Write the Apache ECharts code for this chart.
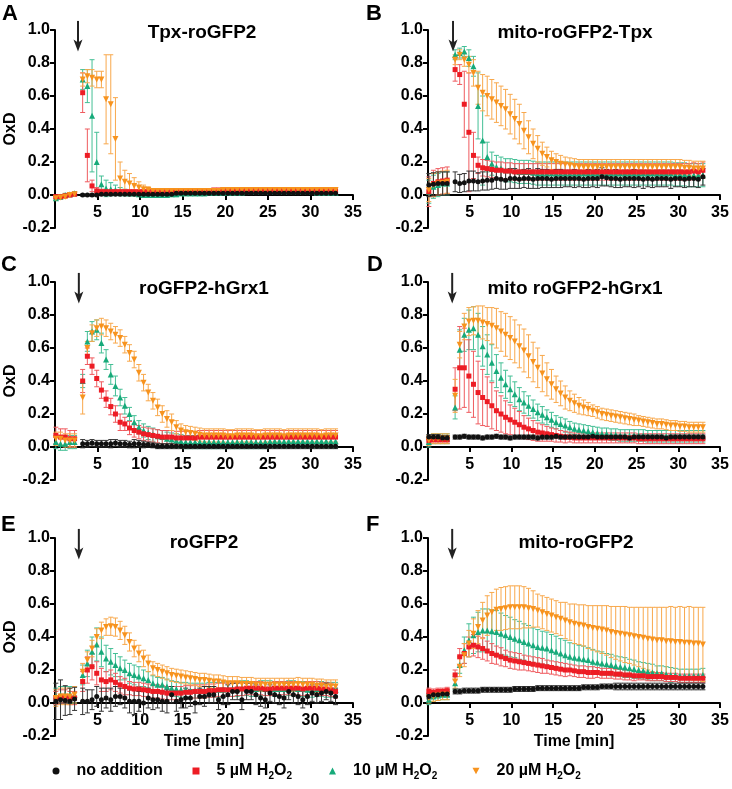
<!DOCTYPE html>
<html><head><meta charset="utf-8">
<script src="https://cdn.jsdelivr.net/npm/echarts/dist/echarts.min.js"></script>
<style>html,body{margin:0;padding:0;background:#fff}#c{width:732px;height:789px}</style>
</head><body><div id="c"></div>
<script>
// ---------- DATA ----------
const TIME = [0.1,0.65,1.2,1.75,2.3, 3.25,3.8,4.35,4.9,5.45, 6.0,6.55,7.1,7.65,8.2, 8.75,9.3,9.85,10.4,10.95, 11.5,12.05,12.6,13.15,13.7, 14.25,14.8,15.35,15.9,16.45, 17.0,17.55,18.1,18.65,19.2, 19.75,20.3,20.85,21.4,21.95, 22.5,23.05,23.6,24.15,24.7, 25.25,25.8,26.35,26.9,27.45, 28.0,28.55,29.1,29.65,30.2, 30.75,31.3,31.85,32.4,32.95];
const X_TICKS = [0,5,10,15,20,25,30,35];
const Y_TICKS = [-0.2,0,0.2,0.4,0.6,0.8,1.0];
const SERIES_NAMES = ['no addition','5 µM H2O2','10 µM H2O2','20 µM H2O2'];
const PANEL_TITLES = ['Tpx-roGFP2','mito-roGFP2-Tpx','roGFP2-hGrx1','mito roGFP2-hGrx1','roGFP2','mito-roGFP2'];
const PANEL_LETTERS = ['A','B','C','D','E','F'];
const ARROW_T = [2.7,3.0,2.8,2.9,2.8,2.9];
const ARROW_Y = [1.055,0.87];

// Panel A
const A_NB = [null,null,null,null,null,
0,0,0,0,0.005, 0.005,0.005,0.005,0.005,0.005, 0.005,0.005,0.005,0.005,0.005, 0.005,0.005,0.005,0.005,0.005,
0.01,0.01,0.01,0.01,0.01, 0.01,0.01,0.01,0.01,0.01, 0.01,0.01,0.01,0.01,0.01, 0.01,0.01,0.01,0.01,0.01,
0.01,0.01,0.01,0.01,0.01, 0.01,0.01,0.01,0.01,0.01, 0.01,0.01,0.01,0.01,0.01];
const A_NB_E = [0,0,0,0,0,
0.006,0.006,0.006,0.006,0.006, 0.006,0.006,0.006,0.006,0.006, 0.006,0.006,0.006,0.006,0.006, 0.006,0.006,0.006,0.006,0.006,
0.006,0.006,0.006,0.006,0.006, 0.006,0.006,0.006,0.006,0.006, 0.006,0.006,0.006,0.006,0.006, 0.006,0.006,0.006,0.006,0.006,
0.006,0.006,0.006,0.006,0.006, 0.006,0.006,0.006,0.006,0.006, 0.006,0.006,0.006,0.006,0.006];
const A_RD = [-0.01,-0.01,-0.005,0,0.005,
0.62,0.24,0.055,0.025,0.02, 0.02,0.02,0.02,0.02,0.02, 0.02,0.02,0.02,0.02,0.02, 0.02,0.02,0.02,0.02,0.02,
0.02,0.02,0.02,0.025,0.025, 0.025,0.025,0.025,0.03,0.03, 0.03,0.03,0.03,0.03,0.03, 0.03,0.03,0.03,0.03,0.03,
0.03,0.03,0.03,0.03,0.03, 0.03,0.03,0.03,0.025,0.025, 0.025,0.025,0.025,0.025,0.025];
const A_RD_E = [0.01,0.01,0.01,0.01,0.01,
0.12,0.16,0.035,0.02,0.015, 0.01,0.01,0.01,0.01,0.01, 0.01,0.01,0.01,0.01,0.01, 0.01,0.01,0.01,0.01,0.01,
0.01,0.01,0.01,0.01,0.01, 0.01,0.01,0.01,0.01,0.01, 0.01,0.01,0.01,0.01,0.01, 0.01,0.01,0.01,0.01,0.01,
0.01,0.01,0.01,0.01,0.01, 0.01,0.01,0.01,0.01,0.01, 0.01,0.01,0.01,0.01,0.01];
const A_GR = [-0.02,-0.01,0,0.005,0.01,
0.70,0.66,0.48,0.20,0.065, 0.04,0.035,0.03,0.02,0.015, 0.01,0.01,0.005,0,0, 0,0,0,0,0.005,
0.005,0.01,0.01,0.01,0.01, 0.01,0.01,0.015,0.015,0.015, 0.015,0.015,0.015,0.015,0.015, 0.02,0.02,0.02,0.02,0.02,
0.02,0.02,0.02,0.02,0.02, 0.02,0.02,0.02,0.02,0.02, 0.015,0.015,0.015,0.015,0.015];
const A_GR_E = [0.01,0.01,0.01,0.01,0.01,
0.06,0.10,0.34,0.18,0.05, 0.05,0.04,0.03,0.025,0.02, 0.015,0.015,0.015,0.015,0.015, 0.015,0.015,0.015,0.015,0.015,
0.015,0.015,0.015,0.015,0.015, 0.015,0.015,0.015,0.015,0.015, 0.015,0.015,0.015,0.015,0.015, 0.015,0.015,0.015,0.015,0.015,
0.015,0.015,0.015,0.015,0.015, 0.015,0.015,0.015,0.015,0.015, 0.015,0.015,0.015,0.015,0.015];
const A_OR = [-0.02,-0.015,-0.01,0,0.005,
0.70,0.72,0.71,0.70,0.70, 0.58,0.55,0.34,0.10,0.08, 0.07,0.055,0.045,0.035,0.03, 0.025,0.025,0.025,0.025,0.025,
0.025,0.025,0.025,0.025,0.025, 0.025,0.025,0.025,0.025,0.025, 0.03,0.03,0.03,0.03,0.03, 0.03,0.03,0.03,0.03,0.03,
0.03,0.03,0.03,0.03,0.03, 0.03,0.03,0.03,0.03,0.03, 0.03,0.03,0.03,0.03,0.03];
const A_OR_E = [0.01,0.01,0.01,0.01,0.01,
0.04,0.04,0.05,0.05,0.05, 0.27,0.30,0.25,0.10,0.07, 0.06,0.05,0.035,0.025,0.02, 0.012,0.012,0.012,0.012,0.012,
0.012,0.012,0.012,0.012,0.012, 0.012,0.012,0.012,0.012,0.012, 0.012,0.012,0.012,0.012,0.012, 0.012,0.012,0.012,0.012,0.012,
0.012,0.012,0.012,0.012,0.012, 0.012,0.012,0.012,0.012,0.012, 0.012,0.012,0.012,0.012,0.012];

// Panel B
const B_NB = [0.06,0.065,0.07,0.07,0.07,
0.08,0.07,0.075,0.085,0.085, 0.08,0.085,0.09,0.09,0.1, 0.095,0.09,0.1,0.1,0.095, 0.1,0.1,0.095,0.1,0.1,
0.1,0.095,0.1,0.1,0.1, 0.1,0.1,0.1,0.095,0.1, 0.1,0.1,0.11,0.105,0.1, 0.1,0.095,0.1,0.1,0.1,
0.1,0.095,0.1,0.095,0.1, 0.1,0.1,0.095,0.1,0.1, 0.095,0.1,0.1,0.095,0.11];
const B_NB_E = [0.07,0.07,0.07,0.07,0.07,
0.06,0.055,0.055,0.06,0.06, 0.055,0.055,0.06,0.055,0.06, 0.06,0.055,0.06,0.06,0.055, 0.055,0.06,0.055,0.06,0.055,
0.055,0.05,0.055,0.055,0.05, 0.05,0.055,0.05,0.05,0.055, 0.05,0.055,0.055,0.05,0.05, 0.055,0.05,0.05,0.05,0.055,
0.05,0.055,0.05,0.05,0.05, 0.05,0.05,0.055,0.05,0.05, 0.05,0.05,0.05,0.05,0.05];
const B_RD = [0.02,0.07,0.08,0.085,0.09,
0.76,0.73,0.55,0.38,0.24, 0.18,0.165,0.16,0.155,0.15, 0.15,0.145,0.145,0.14,0.14, 0.14,0.14,0.14,0.14,0.14,
0.14,0.14,0.14,0.14,0.14, 0.14,0.14,0.14,0.14,0.14, 0.14,0.14,0.14,0.14,0.14, 0.14,0.14,0.14,0.14,0.14,
0.14,0.14,0.14,0.14,0.14, 0.14,0.14,0.14,0.14,0.14, 0.14,0.14,0.145,0.14,0.15];
const B_RD_E = [0.09,0.08,0.08,0.08,0.08,
0.07,0.06,0.20,0.36,0.14, 0.05,0.05,0.05,0.05,0.05, 0.05,0.05,0.05,0.05,0.05, 0.05,0.05,0.05,0.05,0.05,
0.05,0.05,0.05,0.05,0.05, 0.05,0.05,0.05,0.05,0.05, 0.05,0.05,0.05,0.05,0.05, 0.05,0.05,0.05,0.05,0.05,
0.05,0.05,0.05,0.05,0.05, 0.05,0.05,0.05,0.05,0.05, 0.05,0.05,0.05,0.05,0.05];
const B_GR = [0.02,0.05,0.06,0.07,0.07,
0.85,0.86,0.87,0.83,0.78, 0.54,0.33,0.23,0.19,0.17, 0.16,0.15,0.15,0.145,0.14, 0.14,0.14,0.135,0.13,0.13,
0.13,0.13,0.13,0.13,0.13, 0.13,0.13,0.13,0.13,0.13, 0.13,0.13,0.13,0.13,0.13, 0.13,0.13,0.13,0.13,0.13,
0.13,0.13,0.13,0.13,0.13, 0.13,0.13,0.13,0.125,0.125, 0.125,0.12,0.12,0.12,0.12];
const B_GR_E = [0.07,0.07,0.07,0.07,0.07,
0.03,0.03,0.03,0.05,0.06, 0.20,0.27,0.09,0.07,0.07, 0.07,0.07,0.07,0.07,0.07, 0.07,0.07,0.07,0.07,0.07,
0.07,0.07,0.07,0.07,0.07, 0.07,0.07,0.07,0.07,0.07, 0.07,0.07,0.07,0.07,0.07, 0.07,0.07,0.07,0.07,0.07,
0.07,0.07,0.07,0.07,0.07, 0.07,0.07,0.07,0.07,0.07, 0.07,0.07,0.07,0.07,0.07];
const B_OR = [0.03,0.06,0.07,0.075,0.08,
0.82,0.85,0.82,0.79,0.74, 0.65,0.62,0.60,0.58,0.56, 0.54,0.52,0.49,0.46,0.43, 0.39,0.35,0.31,0.28,0.25,
0.23,0.21,0.20,0.19,0.185, 0.18,0.175,0.17,0.17,0.17, 0.17,0.17,0.17,0.17,0.17, 0.17,0.17,0.17,0.17,0.17,
0.17,0.17,0.17,0.17,0.17, 0.17,0.17,0.17,0.17,0.17, 0.165,0.165,0.16,0.16,0.16];
const B_OR_E = [0.07,0.07,0.07,0.07,0.07,
0.03,0.03,0.04,0.05,0.08, 0.10,0.11,0.12,0.12,0.12, 0.12,0.12,0.12,0.12,0.12, 0.11,0.10,0.09,0.08,0.07,
0.06,0.055,0.05,0.05,0.045, 0.045,0.045,0.045,0.045,0.045, 0.045,0.045,0.045,0.045,0.045, 0.045,0.045,0.045,0.045,0.045,
0.045,0.045,0.045,0.045,0.045, 0.045,0.045,0.045,0.045,0.045, 0.045,0.045,0.045,0.045,0.045];

// Panel C
const C_NB = [null,null,null,null,null,
0.02,0.02,0.025,0.02,0.02, 0.02,0.02,0.025,0.02,0.02, 0.015,0.02,0.02,0.015,0.015, 0.01,0.005,0.005,0.005,0.005,
0.005,0.005,0.005,0.005,0.005, 0.005,0.005,0.005,0.005,0.005, 0.005,0.005,0.005,0.005,0.005, 0.005,0.005,0.005,0.005,0.005,
0.005,0.005,0.005,0.005,0.005, 0.005,0.005,0.005,0.005,0.005, 0.005,0.005,0.005,0.005,0.005];
const C_NB_E = [0,0,0,0,0,
0.025,0.02,0.02,0.02,0.02, 0.02,0.025,0.02,0.02,0.02, 0.02,0.025,0.02,0.02,0.015, 0.015,0.015,0.015,0.015,0.015,
0.015,0.015,0.015,0.015,0.015, 0.015,0.015,0.015,0.015,0.015, 0.015,0.015,0.015,0.015,0.015, 0.015,0.015,0.015,0.015,0.015,
0.015,0.015,0.015,0.015,0.015, 0.015,0.015,0.015,0.015,0.015, 0.015,0.015,0.015,0.015,0.015];
const C_RD = [0.07,0.06,0.06,0.05,0.05,
0.40,0.55,0.49,0.415,0.345, 0.29,0.245,0.20,0.15,0.14, 0.115,0.10,0.09,0.08,0.075, 0.07,0.065,0.06,0.06,0.06,
0.055,0.055,0.055,0.055,0.055, 0.06,0.06,0.06,0.06,0.06, 0.06,0.06,0.06,0.06,0.06, 0.06,0.06,0.06,0.06,0.06,
0.06,0.06,0.06,0.06,0.06, 0.06,0.06,0.06,0.06,0.06, 0.06,0.06,0.06,0.06,0.06];
const C_RD_E = [0.05,0.05,0.05,0.05,0.05,
0.07,0.05,0.05,0.05,0.05, 0.05,0.05,0.05,0.05,0.04, 0.04,0.04,0.04,0.04,0.04, 0.04,0.04,0.04,0.04,0.04,
0.04,0.04,0.04,0.04,0.04, 0.04,0.04,0.04,0.04,0.04, 0.04,0.04,0.04,0.04,0.04, 0.04,0.04,0.04,0.04,0.04,
0.04,0.04,0.04,0.04,0.04, 0.04,0.04,0.04,0.04,0.04, 0.04,0.04,0.04,0.04,0.04];
const C_GR = [0.03,0.02,0.02,0.03,0.03,
0.40,0.64,0.70,0.71,0.63, 0.53,0.44,0.37,0.30,0.25, 0.20,0.15,0.12,0.10,0.085, 0.075,0.065,0.06,0.05,0.045,
0.04,0.035,0.03,0.03,0.03, 0.03,0.03,0.03,0.03,0.03, 0.03,0.03,0.03,0.03,0.03, 0.03,0.03,0.03,0.03,0.03,
0.035,0.035,0.035,0.035,0.035, 0.035,0.035,0.035,0.035,0.035, 0.035,0.035,0.035,0.035,0.035];
const C_GR_E = [0.04,0.04,0.04,0.04,0.04,
0.04,0.06,0.06,0.06,0.06, 0.06,0.06,0.06,0.05,0.05, 0.04,0.04,0.04,0.04,0.04, 0.04,0.04,0.04,0.04,0.04,
0.04,0.04,0.04,0.04,0.04, 0.04,0.04,0.04,0.04,0.04, 0.04,0.04,0.04,0.04,0.04, 0.04,0.04,0.04,0.04,0.04,
0.04,0.04,0.04,0.04,0.04, 0.04,0.04,0.04,0.04,0.04, 0.04,0.04,0.04,0.04,0.04];
const C_OR = [0.05,0.05,0.04,0.04,0.04,
0.30,0.60,0.69,0.72,0.73, 0.72,0.70,0.68,0.66,0.62, 0.57,0.53,0.45,0.39,0.33, 0.28,0.24,0.20,0.17,0.15,
0.12,0.10,0.09,0.085,0.08, 0.075,0.07,0.07,0.07,0.07, 0.07,0.065,0.065,0.07,0.07, 0.07,0.07,0.065,0.065,0.07,
0.07,0.07,0.07,0.065,0.07, 0.07,0.07,0.07,0.07,0.07, 0.07,0.065,0.07,0.07,0.07];
const C_OR_E = [0.04,0.04,0.04,0.04,0.04,
0.10,0.04,0.05,0.05,0.05, 0.05,0.05,0.05,0.05,0.05, 0.05,0.05,0.05,0.05,0.05, 0.05,0.05,0.05,0.05,0.05,
0.04,0.04,0.04,0.04,0.04, 0.04,0.04,0.04,0.04,0.04, 0.04,0.04,0.04,0.04,0.04, 0.04,0.04,0.04,0.04,0.04,
0.04,0.04,0.04,0.04,0.04, 0.04,0.04,0.04,0.04,0.04, 0.04,0.04,0.04,0.04,0.04];

// Panel D
const D_NB = [0.06,0.06,0.06,0.055,0.055,
0.06,0.06,0.065,0.06,0.06, 0.06,0.055,0.06,0.06,0.065, 0.06,0.06,0.055,0.06,0.06, 0.06,0.06,0.06,0.055,0.06,
0.06,0.06,0.065,0.06,0.06, 0.06,0.06,0.06,0.06,0.06, 0.065,0.06,0.06,0.06,0.06, 0.06,0.06,0.06,0.055,0.06,
0.06,0.06,0.06,0.06,0.06, 0.06,0.055,0.06,0.06,0.06, 0.06,0.06,0.06,0.06,0.06];
const D_NB_E = [0.015,0.015,0.015,0.015,0.015,
0.012,0.012,0.012,0.012,0.012, 0.012,0.012,0.012,0.012,0.012, 0.012,0.012,0.012,0.012,0.012, 0.012,0.012,0.012,0.012,0.012,
0.012,0.012,0.012,0.012,0.012, 0.012,0.012,0.012,0.012,0.012, 0.012,0.012,0.012,0.012,0.012, 0.012,0.012,0.012,0.012,0.012,
0.012,0.012,0.012,0.012,0.012, 0.012,0.012,0.012,0.012,0.012, 0.012,0.012,0.012,0.012,0.012];
const D_RD = [0.04,0.045,0.045,0.045,0.045,
0.35,0.48,0.48,0.43,0.38, 0.33,0.30,0.275,0.25,0.22, 0.20,0.18,0.165,0.15,0.135, 0.12,0.11,0.10,0.09,0.085,
0.08,0.075,0.07,0.065,0.06, 0.06,0.055,0.055,0.055,0.055, 0.055,0.055,0.055,0.055,0.055, 0.055,0.055,0.055,0.055,0.055,
0.05,0.05,0.05,0.05,0.05, 0.05,0.05,0.05,0.05,0.05, 0.05,0.05,0.05,0.05,0.05];
const D_RD_E = [0.02,0.02,0.02,0.02,0.02,
0.13,0.25,0.24,0.22,0.20, 0.19,0.17,0.15,0.14,0.12, 0.11,0.10,0.09,0.085,0.08, 0.07,0.065,0.06,0.055,0.05,
0.045,0.04,0.04,0.035,0.035, 0.03,0.03,0.03,0.03,0.03, 0.03,0.03,0.03,0.03,0.03, 0.03,0.03,0.03,0.03,0.03,
0.03,0.03,0.03,0.03,0.03, 0.03,0.03,0.03,0.03,0.03, 0.03,0.03,0.03,0.03,0.03];
const D_GR = [0.03,0.05,0.05,0.05,0.05,
0.24,0.59,0.68,0.71,0.72, 0.68,0.61,0.56,0.51,0.46, 0.42,0.38,0.35,0.32,0.29, 0.27,0.25,0.23,0.21,0.195,
0.18,0.165,0.15,0.14,0.13, 0.12,0.11,0.105,0.10,0.095, 0.09,0.085,0.08,0.08,0.075, 0.075,0.07,0.07,0.07,0.07,
0.07,0.07,0.065,0.065,0.065, 0.065,0.065,0.065,0.065,0.065, 0.065,0.065,0.065,0.065,0.065];
const D_GR_E = [0.03,0.03,0.03,0.03,0.03,
0.07,0.12,0.10,0.12,0.13, 0.13,0.12,0.12,0.11,0.10, 0.09,0.085,0.08,0.075,0.07, 0.065,0.06,0.055,0.05,0.05,
0.045,0.045,0.04,0.04,0.04, 0.035,0.035,0.035,0.035,0.035, 0.035,0.035,0.035,0.035,0.035, 0.035,0.035,0.035,0.035,0.035,
0.035,0.035,0.035,0.035,0.035, 0.035,0.035,0.035,0.035,0.035, 0.035,0.035,0.035,0.035,0.035];
const D_OR = [0.04,0.05,0.05,0.05,0.05,
0.31,0.62,0.73,0.76,0.765, 0.765,0.755,0.745,0.735,0.72, 0.70,0.68,0.66,0.64,0.61, 0.585,0.55,0.515,0.48,0.445,
0.41,0.38,0.35,0.325,0.30, 0.28,0.265,0.25,0.24,0.23, 0.22,0.21,0.20,0.195,0.19, 0.185,0.18,0.175,0.17,0.165,
0.16,0.155,0.15,0.145,0.14, 0.14,0.135,0.13,0.13,0.125, 0.125,0.12,0.12,0.12,0.12];
const D_OR_E = [0.03,0.03,0.03,0.03,0.03,
0.10,0.08,0.08,0.085,0.085, 0.09,0.10,0.10,0.11,0.12, 0.12,0.13,0.13,0.13,0.13, 0.13,0.13,0.12,0.12,0.11,
0.10,0.09,0.08,0.075,0.07, 0.06,0.055,0.05,0.045,0.04, 0.035,0.035,0.035,0.035,0.035, 0.035,0.035,0.035,0.035,0.035,
0.03,0.03,0.03,0.03,0.03, 0.03,0.03,0.03,0.03,0.03, 0.03,0.03,0.03,0.03,0.03];

// Panel E
const E_NB = [0.01,0.02,0.015,0.01,0.025,
0.01,0.01,0.02,0.04,0.02, 0.03,0.02,0.04,0.04,0.03, 0.01,0.01,0.01,0.0,0.03, 0.02,0.02,0.01,0.01,0.05,
0.01,0.02,0.03,0.03,0.0, 0.04,0.04,0.05,0.05,0.02, 0.04,0.05,0.07,0.07,0.02, 0.07,0.07,0.05,0.03,0.02,
0.06,0.05,0.04,0.03,0.07, 0.05,0.04,0.02,0.04,0.06, 0.05,0.06,0.07,0.06,0.04];
const E_NB_E = [0.11,0.12,0.09,0.08,0.07,
0.08,0.07,0.06,0.06,0.07, 0.06,0.07,0.06,0.05,0.06, 0.07,0.08,0.06,0.07,0.06, 0.06,0.05,0.06,0.07,0.05,
0.06,0.05,0.06,0.05,0.06, 0.05,0.06,0.05,0.05,0.06, 0.05,0.06,0.05,0.05,0.06, 0.05,0.05,0.06,0.05,0.05,
0.05,0.05,0.05,0.06,0.05, 0.05,0.05,0.05,0.05,0.05, 0.05,0.05,0.05,0.05,0.05];
const E_RD = [0.03,0.04,0.04,0.03,0.03,
0.13,0.20,0.22,0.18,0.14, 0.13,0.14,0.125,0.11,0.10, 0.09,0.085,0.085,0.08,0.075, 0.07,0.07,0.065,0.06,0.06,
0.06,0.06,0.065,0.065,0.07, 0.07,0.07,0.075,0.075,0.08, 0.08,0.08,0.08,0.085,0.085, 0.09,0.09,0.09,0.09,0.085,
0.085,0.09,0.09,0.09,0.09, 0.09,0.09,0.085,0.09,0.09, 0.09,0.085,0.085,0.08,0.07];
const E_RD_E = [0.04,0.04,0.04,0.04,0.04,
0.06,0.08,0.08,0.07,0.07, 0.06,0.06,0.055,0.05,0.05, 0.04,0.04,0.04,0.04,0.04, 0.04,0.04,0.04,0.04,0.04,
0.04,0.04,0.04,0.04,0.04, 0.04,0.04,0.04,0.04,0.04, 0.04,0.04,0.04,0.04,0.04, 0.04,0.04,0.04,0.04,0.04,
0.04,0.04,0.04,0.04,0.04, 0.04,0.04,0.04,0.04,0.04, 0.04,0.04,0.04,0.04,0.04];
const E_GR = [0.04,0.05,0.05,0.05,0.05,
0.17,0.24,0.31,0.355,0.31, 0.27,0.25,0.23,0.21,0.20, 0.18,0.17,0.16,0.15,0.14, 0.12,0.11,0.11,0.10,0.09,
0.085,0.08,0.08,0.075,0.075, 0.075,0.075,0.08,0.08,0.08, 0.08,0.085,0.085,0.085,0.09, 0.09,0.085,0.085,0.09,0.09,
0.09,0.085,0.085,0.085,0.09, 0.09,0.085,0.085,0.08,0.08, 0.085,0.085,0.08,0.08,0.08];
const E_GR_E = [0.05,0.05,0.05,0.05,0.05,
0.06,0.08,0.09,0.10,0.09, 0.08,0.08,0.07,0.07,0.06, 0.06,0.06,0.06,0.05,0.05, 0.045,0.045,0.045,0.045,0.045,
0.045,0.045,0.045,0.045,0.045, 0.045,0.045,0.045,0.045,0.045, 0.045,0.045,0.045,0.045,0.045, 0.045,0.045,0.045,0.045,0.045,
0.045,0.045,0.045,0.045,0.045, 0.045,0.045,0.045,0.045,0.045, 0.045,0.045,0.045,0.045,0.045];
const E_OR = [0.03,0.04,0.04,0.04,0.05,
0.19,0.26,0.33,0.40,0.44, 0.46,0.465,0.46,0.44,0.41, 0.37,0.33,0.30,0.27,0.24, 0.21,0.20,0.19,0.18,0.17,
0.165,0.16,0.155,0.15,0.145, 0.14,0.14,0.135,0.13,0.13, 0.125,0.12,0.12,0.12,0.115, 0.115,0.115,0.11,0.11,0.11,
0.11,0.11,0.11,0.11,0.11, 0.11,0.115,0.11,0.11,0.11, 0.105,0.105,0.10,0.10,0.10];
const E_OR_E = [0.05,0.05,0.05,0.05,0.05,
0.05,0.05,0.05,0.05,0.05, 0.05,0.055,0.055,0.055,0.055, 0.055,0.05,0.05,0.05,0.05, 0.04,0.04,0.04,0.04,0.04,
0.04,0.04,0.04,0.04,0.04, 0.04,0.04,0.04,0.04,0.04, 0.04,0.04,0.04,0.04,0.04, 0.04,0.04,0.04,0.04,0.04,
0.04,0.04,0.04,0.04,0.04, 0.04,0.04,0.04,0.04,0.04, 0.04,0.04,0.04,0.04,0.04];

// Panel F
const F_NB = [0.04,0.05,0.05,0.055,0.055,
0.07,0.07,0.075,0.075,0.075, 0.075,0.08,0.08,0.08,0.08, 0.08,0.08,0.08,0.085,0.085, 0.085,0.085,0.085,0.09,0.09,
0.09,0.09,0.09,0.09,0.09, 0.09,0.09,0.09,0.095,0.095, 0.095,0.095,0.1,0.1,0.1, 0.1,0.1,0.1,0.1,0.1,
0.1,0.1,0.1,0.1,0.1, 0.1,0.1,0.1,0.1,0.1, 0.1,0.1,0.1,0.1,0.1];
const F_NB_E = [0.015,0.015,0.015,0.015,0.015,
0.015,0.015,0.015,0.015,0.015, 0.015,0.015,0.015,0.015,0.015, 0.015,0.015,0.015,0.015,0.015, 0.015,0.015,0.015,0.015,0.015,
0.015,0.015,0.015,0.015,0.015, 0.015,0.015,0.015,0.015,0.015, 0.015,0.015,0.015,0.015,0.015, 0.02,0.02,0.02,0.02,0.02,
0.02,0.02,0.02,0.02,0.02, 0.02,0.02,0.02,0.02,0.02, 0.02,0.02,0.02,0.02,0.02];
const F_RD = [0.07,0.065,0.07,0.07,0.075,
0.17,0.28,0.30,0.34,0.35, 0.34,0.33,0.315,0.30,0.29, 0.28,0.27,0.26,0.255,0.25, 0.245,0.24,0.235,0.23,0.225,
0.22,0.215,0.21,0.205,0.20, 0.20,0.195,0.19,0.19,0.185, 0.185,0.185,0.18,0.18,0.18, 0.175,0.175,0.17,0.17,0.165,
0.165,0.165,0.16,0.16,0.16, 0.16,0.155,0.155,0.155,0.15, 0.15,0.15,0.15,0.15,0.15];
const F_RD_E = [0.02,0.02,0.02,0.02,0.02,
0.03,0.05,0.06,0.06,0.065, 0.065,0.065,0.06,0.06,0.055, 0.055,0.05,0.05,0.05,0.05, 0.045,0.045,0.045,0.045,0.045,
0.04,0.04,0.04,0.04,0.04, 0.035,0.035,0.035,0.035,0.035, 0.035,0.03,0.03,0.03,0.03, 0.03,0.03,0.03,0.03,0.03,
0.025,0.025,0.025,0.025,0.025, 0.025,0.025,0.025,0.025,0.025, 0.025,0.025,0.025,0.025,0.025];
const F_GR = [0.02,0.04,0.045,0.05,0.05,
0.12,0.23,0.32,0.38,0.41, 0.43,0.44,0.44,0.435,0.43, 0.42,0.41,0.40,0.39,0.38, 0.37,0.36,0.35,0.34,0.335,
0.33,0.32,0.31,0.30,0.29, 0.28,0.275,0.27,0.265,0.26, 0.25,0.245,0.24,0.235,0.23, 0.225,0.22,0.215,0.21,0.205,
0.20,0.195,0.19,0.185,0.18, 0.18,0.175,0.17,0.17,0.165, 0.165,0.165,0.165,0.165,0.17];
const F_GR_E = [0.03,0.03,0.03,0.03,0.03,
0.04,0.05,0.08,0.10,0.11, 0.12,0.13,0.13,0.13,0.13, 0.125,0.12,0.12,0.115,0.115, 0.11,0.11,0.105,0.105,0.10,
0.10,0.095,0.095,0.09,0.09, 0.085,0.085,0.08,0.08,0.075, 0.075,0.07,0.07,0.065,0.065, 0.06,0.06,0.06,0.055,0.055,
0.05,0.05,0.05,0.05,0.045, 0.045,0.045,0.045,0.04,0.04, 0.04,0.04,0.04,0.04,0.04];
const F_OR = [0.03,0.04,0.045,0.05,0.05,
0.13,0.22,0.29,0.36,0.42, 0.46,0.50,0.53,0.55,0.565, 0.57,0.575,0.58,0.58,0.58, 0.58,0.575,0.57,0.56,0.55,
0.54,0.53,0.52,0.51,0.50, 0.49,0.48,0.475,0.47,0.46, 0.455,0.45,0.445,0.44,0.43, 0.425,0.42,0.415,0.41,0.405,
0.40,0.395,0.39,0.385,0.38, 0.38,0.375,0.375,0.37,0.37, 0.365,0.365,0.36,0.36,0.355];
const F_OR_E = [0.03,0.03,0.03,0.03,0.03,
0.04,0.06,0.07,0.08,0.09, 0.10,0.11,0.12,0.12,0.125, 0.13,0.13,0.13,0.13,0.13, 0.125,0.12,0.11,0.10,0.10,
0.10,0.10,0.10,0.10,0.11, 0.11,0.12,0.12,0.125,0.13, 0.135,0.14,0.145,0.15,0.155, 0.16,0.165,0.17,0.17,0.175,
0.18,0.185,0.19,0.195,0.20, 0.20,0.205,0.21,0.21,0.215, 0.215,0.22,0.22,0.22,0.225];

// ---------- STYLE / LAYOUT ----------
const FONT = "'Liberation Sans', Arial, Helvetica, sans-serif";
const KEYS = ['nb','rd','gr','or'];
const COLORS = {nb:'#111111', rd:'#ed1c24', gr:'#17aa7a', or:'#f7931e'};
const BAR_COLORS = {nb:'#333333', rd:'#ef5b5f', gr:'#44bf95', or:'#f8a84c'};
const SYMBOLS = {nb:'circle', rd:'rect', gr:'triangle', or:'path://M0,0L10,0L5,9Z'};
const SIZES = {nb:5, rd:5, gr:6, or:6};
const DRAW_ORDER = ['gr','rd','or','nb'];

const PANEL_DATA = [
  {nb:[A_NB,A_NB_E], rd:[A_RD,A_RD_E], gr:[A_GR,A_GR_E], or:[A_OR,A_OR_E]},
  {nb:[B_NB,B_NB_E], rd:[B_RD,B_RD_E], gr:[B_GR,B_GR_E], or:[B_OR,B_OR_E]},
  {nb:[C_NB,C_NB_E], rd:[C_RD,C_RD_E], gr:[C_GR,C_GR_E], or:[C_OR,C_OR_E]},
  {nb:[D_NB,D_NB_E], rd:[D_RD,D_RD_E], gr:[D_GR,D_GR_E], or:[D_OR,D_OR_E]},
  {nb:[E_NB,E_NB_E], rd:[E_RD,E_RD_E], gr:[E_GR,E_GR_E], or:[E_OR,E_OR_E]},
  {nb:[F_NB,F_NB_E], rd:[F_RD,F_RD_E], gr:[F_GR,F_GR_E], or:[F_OR,F_OR_E]}
];
const LAYOUT = [
  {grid:{left:55,top:30,width:298,height:198}, tCX:202, tTop:23, lX:2, lY:3, yName:true, xName:false},
  {grid:{left:428,top:30,width:292,height:198}, tCX:575, tTop:23, lX:366, lY:3, yName:false, xName:false},
  {grid:{left:55,top:282,width:298,height:198}, tCX:204, tTop:279, lX:1, lY:254, yName:true, xName:false},
  {grid:{left:428,top:282,width:292,height:198}, tCX:575, tTop:279.5, lX:367, lY:254, yName:false, xName:false},
  {grid:{left:55,top:538,width:298,height:198}, tCX:204, tTop:533.5, lX:1, lY:514, yName:true, xName:true},
  {grid:{left:428,top:538,width:292,height:198}, tCX:576, tTop:533.5, lX:366, lY:514, yName:false, xName:true}
];
// distance in px from the grid bottom (y=-0.2) up to y=0: height * 0.2 / 1.2
const ZERO_OFFSET = -198 * (0 - Y_TICKS[0]) / (Y_TICKS[Y_TICKS.length-1] - Y_TICKS[0]);

const chart = echarts.init(document.getElementById('c'), null, {renderer:'canvas'});

const lenErrors = [];
PANEL_DATA.forEach((pd,pi)=>KEYS.forEach(k=>{ if(pd[k][0].length!==TIME.length||pd[k][1].length!==TIME.length) lenErrors.push(PANEL_LETTERS[pi]+k+':'+pd[k][0].length+'/'+pd[k][1].length); }));

function errRender(color){
  return function(params, api){
    const x = api.value(0), m = api.value(1), e = api.value(2);
    const top = api.coord([x, m + e]);
    const bot = api.coord([x, m - e]);
    const w = 2.5;
    const st = {stroke: color, lineWidth: 1};
    return {type:'group', children:[
      {type:'line', shape:{x1:top[0], y1:top[1], x2:bot[0], y2:bot[1]}, style:st},
      {type:'line', shape:{x1:top[0]-w, y1:top[1], x2:top[0]+w, y2:top[1]}, style:st},
      {type:'line', shape:{x1:bot[0]-w, y1:bot[1], x2:bot[0]+w, y2:bot[1]}, style:st}
    ]};
  };
}
function arrowRender(params, api){
  const x = api.value(0);
  const a = api.coord([x, api.value(1)]);
  const b = api.coord([x, api.value(2)]);
  return {type:'group', children:[
    {type:'line', shape:{x1:a[0], y1:a[1], x2:b[0], y2:b[1]-6}, style:{stroke:'#222', lineWidth:2}},
    {type:'polygon', shape:{points:[[b[0], b[1]], [b[0]-4.5, b[1]-12], [b[0], b[1]-9], [b[0]+4.5, b[1]-12]]}, style:{fill:'#222'}}
  ]};
}

const grids = [], xAxes = [], yAxes = [], titles = [], series = [];
LAYOUT.forEach((L, p) => {
  grids.push(Object.assign({outerBoundsMode:'none', containLabel:false}, L.grid));
  xAxes.push({
    type:'value', gridIndex:p, min:X_TICKS[0], max:X_TICKS[X_TICKS.length-1], interval:5,
    position:'bottom', offset: ZERO_OFFSET,
    splitLine:{show:false},
    axisLine:{show:true, onZero:false, lineStyle:{color:'#000', width:2}},
    axisTick:{show:true, length:5, lineStyle:{color:'#000', width:2}},
    axisLabel:{show:true, margin:10, color:'#000', fontFamily:FONT, fontWeight:'bold', fontSize:16,
      formatter: v => (v === 0 ? '' : String(v))},
    name: L.xName ? 'Time [min]' : '', nameLocation:'middle', nameGap:31, nameMoveOverlap:false,
    nameTextStyle:{color:'#000', fontFamily:FONT, fontWeight:'bold', fontSize:16}
  });
  yAxes.push({
    type:'value', gridIndex:p, min:Y_TICKS[0], max:Y_TICKS[Y_TICKS.length-1], interval:0.2,
    splitLine:{show:false},
    axisLine:{show:true, onZero:false, lineStyle:{color:'#000', width:2}},
    axisTick:{show:true, length:5, lineStyle:{color:'#000', width:2}},
    axisLabel:{show:true, margin:5, color:'#000', fontFamily:FONT, fontWeight:'bold', fontSize:16,
      formatter: v => Number(v).toFixed(1)},
    name: L.yName ? 'OxD' : '', nameLocation:'middle', nameGap:36, nameRotate:90,
    nameTextStyle:{color:'#000', fontFamily:FONT, fontWeight:'bold', fontSize:16}
  });
  titles.push({text:PANEL_TITLES[p], left:L.tCX, top:L.tTop, textAlign:'center', padding:0,
    textStyle:{color:'#000', fontFamily:FONT, fontWeight:'bold', fontSize:19}});
  titles.push({text:PANEL_LETTERS[p], left:L.lX, top:L.lY, padding:0,
    textStyle:{color:'#000', fontFamily:FONT, fontWeight:'bold', fontSize:22}});

  const pd = PANEL_DATA[p];
  DRAW_ORDER.forEach(k => {
    const [mean, err] = pd[k];
    const d = [];
    TIME.forEach((t,i) => { if (mean[i] !== null) d.push([t, mean[i], err[i]]); });
    series.push({type:'custom', name:'err-'+k+p, xAxisIndex:p, yAxisIndex:p, z:2, silent:true,
      renderItem: errRender(BAR_COLORS[k]), data:d, encode:{x:0, y:1}});
  });
  DRAW_ORDER.forEach(k => {
    const mean = pd[k][0];
    const d = [];
    TIME.forEach((t,i) => { if (mean[i] !== null) d.push([t, mean[i]]); });
    series.push({type:'scatter', name:SERIES_NAMES[KEYS.indexOf(k)], xAxisIndex:p, yAxisIndex:p, z:3,
      symbol:SYMBOLS[k], symbolSize:SIZES[k], itemStyle:{color:COLORS[k], opacity:1}, silent:true, clip:false, data:d});
  });
  series.push({type:'custom', name:'arrow'+p, xAxisIndex:p, yAxisIndex:p, z:4, silent:true,
    renderItem: arrowRender, data:[[ARROW_T[p], ARROW_Y[0], ARROW_Y[1]]], encode:{x:0, y:1}});
});

const LEG_X = [52.5, 192.5, 329, 472.5];
const legends = KEYS.map((k,i) => ({
  show:true, orient:'horizontal', left:LEG_X[i], top:763, padding:0, itemGap:0,
  itemWidth:7, itemHeight:7, selectedMode:false,
  data:[{name:SERIES_NAMES[i], icon:SYMBOLS[k], itemStyle:{color:COLORS[k]}}],
  formatter: name => name.indexOf('H2O2') >= 0 ? '{a|' + name.replace('H2O2','H') + '}{s|2}{a|O}{s|2}' : '{a|' + name + '}',
  textStyle:{color:'#000', fontFamily:FONT, fontWeight:'bold', fontSize:16, padding:[0,0,0,12],
    rich:{a:{color:'#000', fontFamily:FONT, fontWeight:'bold', fontSize:16},
          s:{color:'#000', fontFamily:FONT, fontWeight:'bold', fontSize:10, padding:[10,0,0,0]}}}
}));

const option = {
  backgroundColor:'#ffffff', animation:false,
  title: titles, grid: grids, xAxis: xAxes, yAxis: yAxes, legend: legends, series: series,
  tooltip:{show:false}
};
if (lenErrors.length) option.graphic = [{type:'text', left:200, top:380, style:{text:'LEN ERR '+lenErrors.join(' '), fill:'#f0f', font:'14px sans-serif'}}];
chart.setOption(option);
</script></body></html>
